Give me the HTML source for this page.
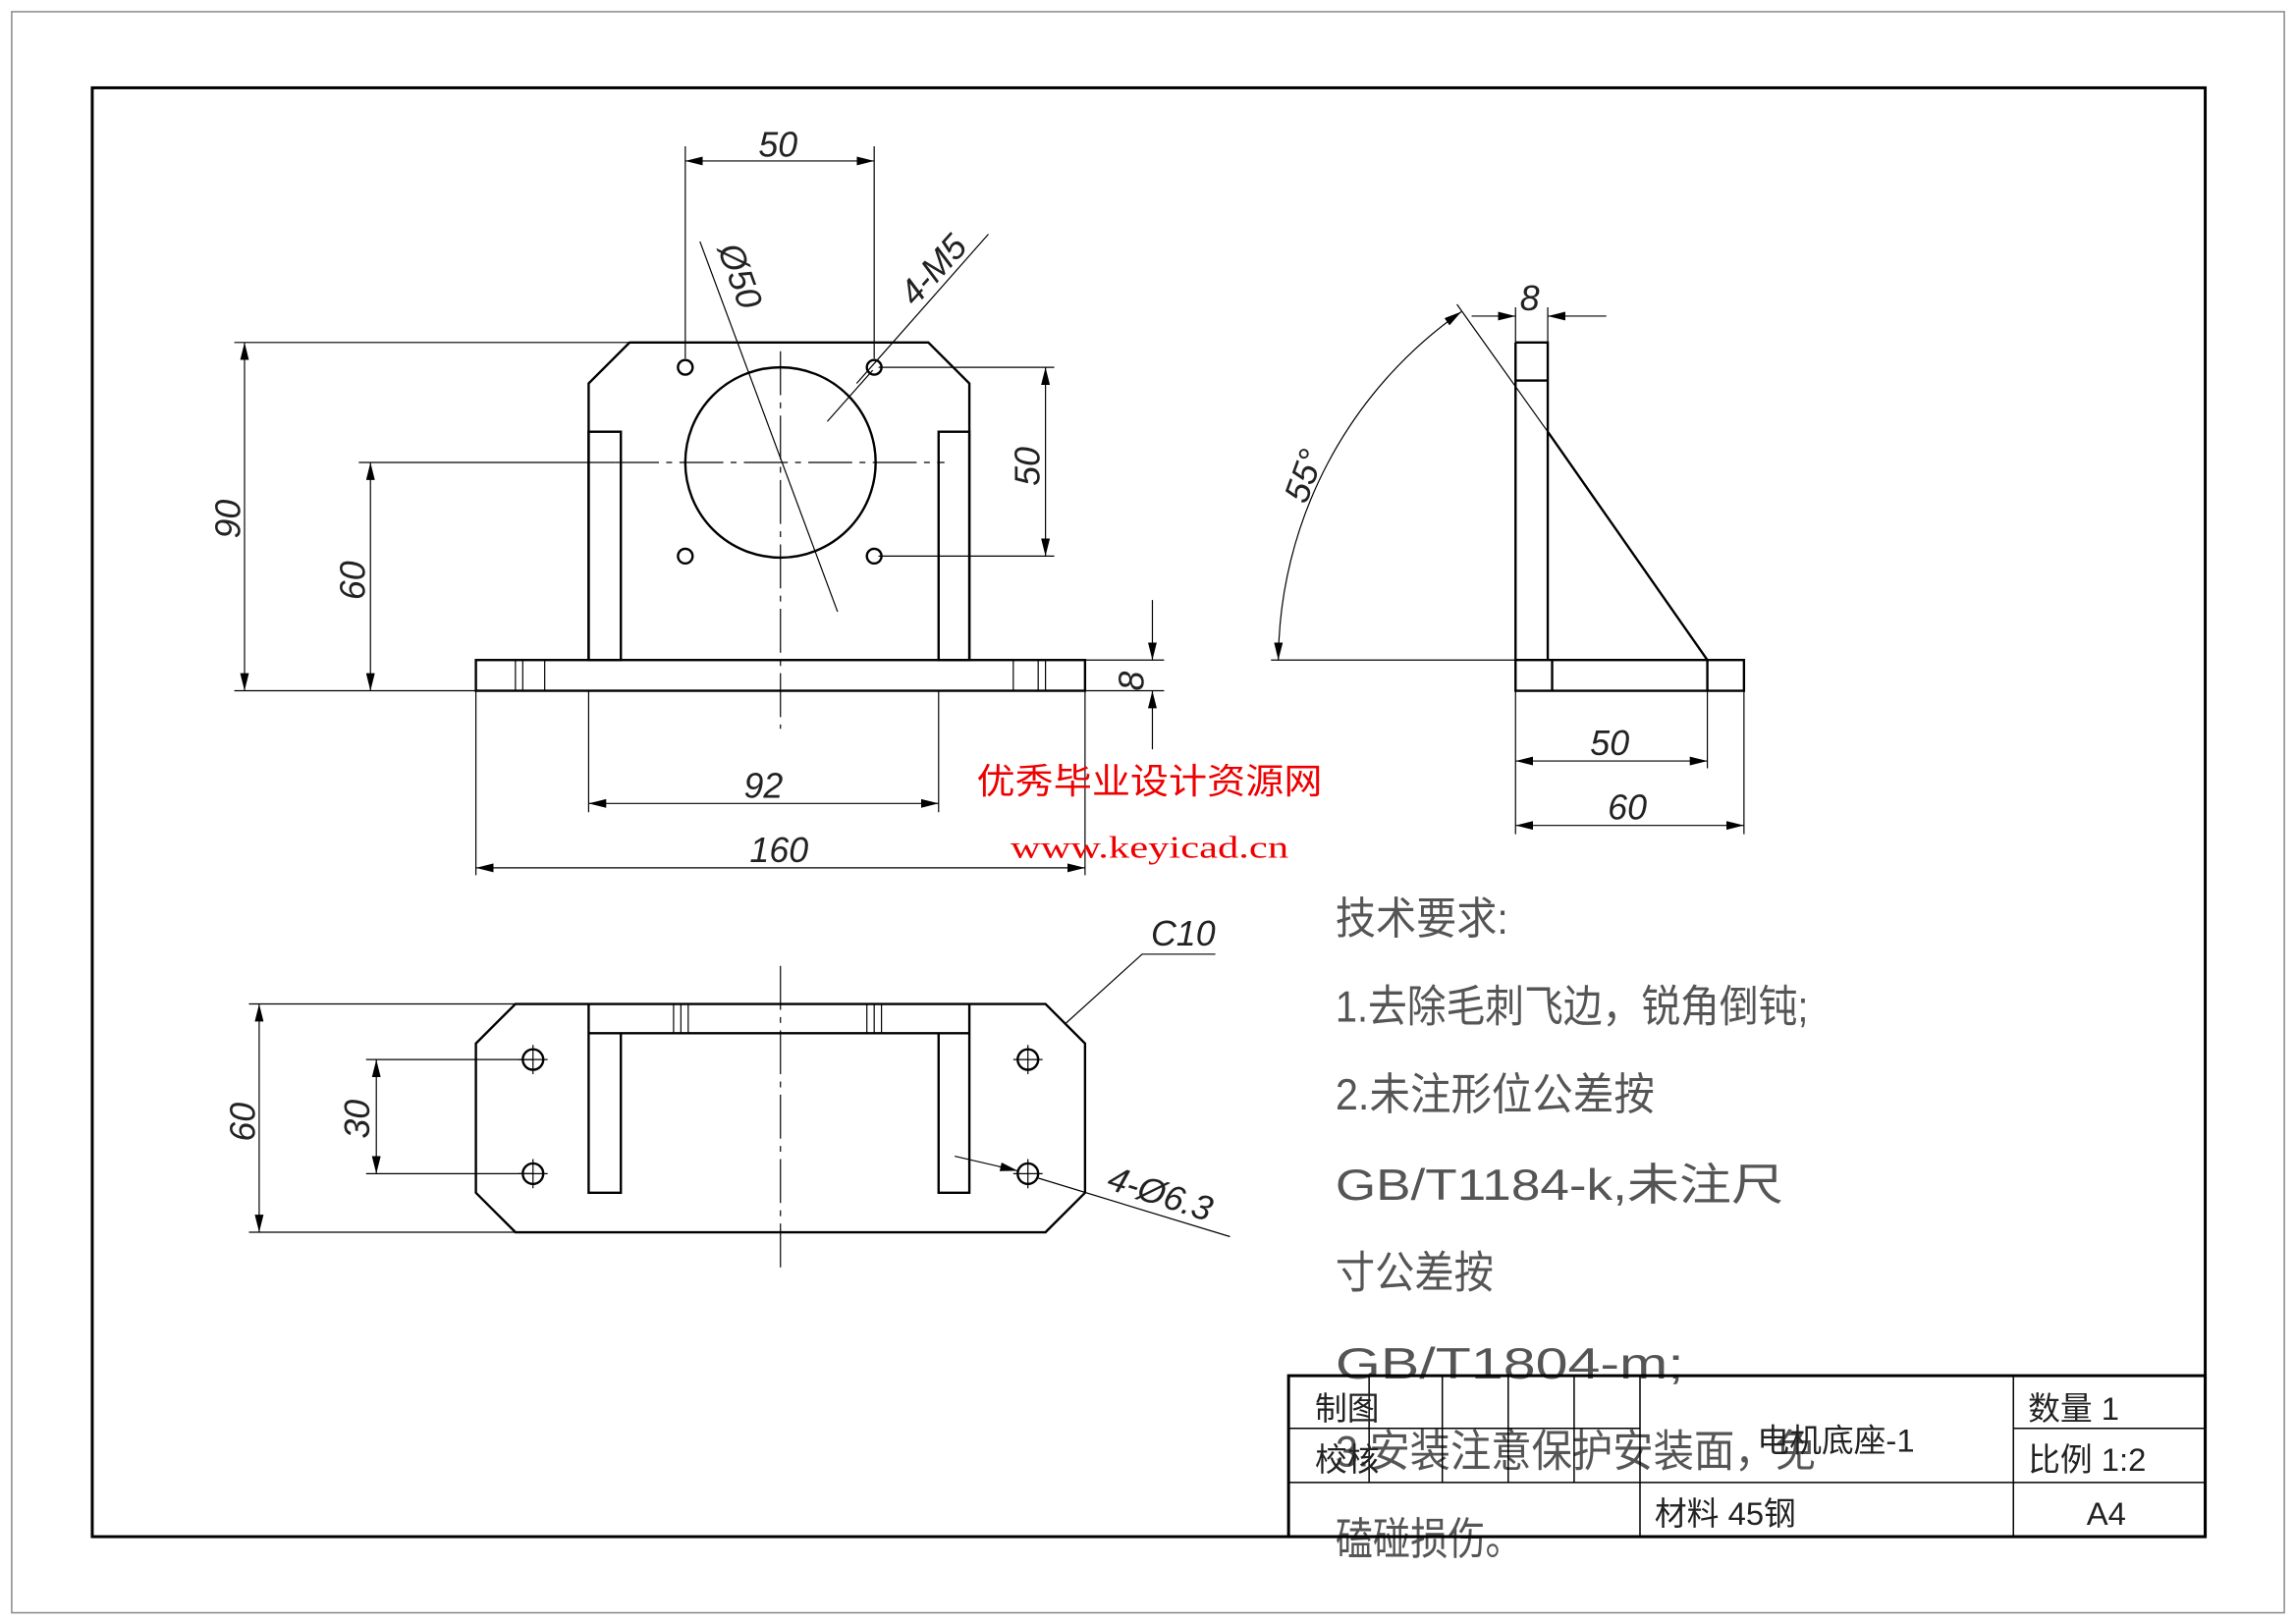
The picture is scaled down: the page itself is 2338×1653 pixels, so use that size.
<!DOCTYPE html>
<html><head><meta charset="utf-8"><style>
html,body{margin:0;padding:0;background:#fff}
svg{display:block}
text{font-family:"Liberation Sans","Noto Sans CJK SC",sans-serif;fill:#222}
.t{font-size:24px;font-style:italic}
.r{font-size:30px;fill:#555}
</style></head><body>
<svg width="2338" height="1653" viewBox="0 0 1568 1109" preserveAspectRatio="none" xmlns="http://www.w3.org/2000/svg">
<defs>
<marker id="a" viewBox="0 0 12 6" refX="12" refY="3" markerWidth="12" markerHeight="6" orient="auto-start-reverse" markerUnits="userSpaceOnUse"><path d="M0,0 L12,3 L0,6 z" fill="#000"/></marker>
</defs>
<rect width="1568" height="1109" fill="#fff"/>
<rect x="8" y="8" width="1552" height="1094" fill="none" stroke="#888" stroke-width="1"/>
<rect x="63" y="60" width="1443" height="990" fill="none" stroke="#000" stroke-width="2"/>

<g fill="none" stroke="#000" stroke-width="1.6">
<rect x="325" y="451" width="416" height="21"/>
<path d="M402,451 V262 L430,234 H634 L662,262 V451"/>
<rect x="402" y="295" width="22" height="156"/>
<rect x="641" y="295" width="21" height="156"/>
<circle cx="533" cy="316" r="65"/>
<circle cx="468" cy="251" r="5"/><circle cx="597" cy="251" r="5"/>
<circle cx="468" cy="380" r="5"/><circle cx="597" cy="380" r="5"/>
</g>
<g stroke="#000" stroke-width="0.8" fill="none">
<path d="M352,451V472M357,451V472M372,451V472M692,451V472M709,451V472M714,451V472"/>
<path d="M420,316H645M533,240V498" stroke-dasharray="30,5,4,5"/>
<path d="M468,100V245M597,100V245"/>
<path d="M468,110H597" marker-start="url(#a)" marker-end="url(#a)"/>
<path d="M478,165L572,418"/>
<path d="M675,160L585,262M596,253L565,288"/>
<path d="M160,234H430M160,472H325"/>
<path d="M167,234V472" marker-start="url(#a)" marker-end="url(#a)"/>
<path d="M245,316H420"/>
<path d="M253,316V472" marker-start="url(#a)" marker-end="url(#a)"/>
<path d="M600,251H720M600,380H720"/>
<path d="M714,251V380" marker-start="url(#a)" marker-end="url(#a)"/>
<path d="M741,451H795M741,472H795"/>
<path d="M787,410V451" marker-end="url(#a)"/><path d="M787,512V472" marker-end="url(#a)"/>
<path d="M402,472V555M641,472V555"/>
<path d="M402,549H641" marker-start="url(#a)" marker-end="url(#a)"/>
<path d="M325,472V598M741,472V598"/>
<path d="M325,593H741" marker-start="url(#a)" marker-end="url(#a)"/>
</g>
<g fill="none" stroke="#000" stroke-width="1.6">
<path d="M1035,234H1057V451M1035,234V472H1191V451H1035M1035,260H1057M1057,295L1166,451M1166,451V472M1060,451V472"/>
</g>
<g stroke="#000" stroke-width="0.8" fill="none">
<path d="M868,451H1035M1057,295L995,208"/>
<path d="M873,451 A293,293 0 0 1 998,213" marker-start="url(#a)" marker-end="url(#a)"/>
<path d="M1035,210V234M1057,210V234"/>
<path d="M1005,216H1035" marker-end="url(#a)"/><path d="M1097,216H1057" marker-end="url(#a)"/>
<path d="M1035,472V570M1166,472V525M1191,472V570"/>
<path d="M1035,520H1166" marker-start="url(#a)" marker-end="url(#a)"/>
<path d="M1035,564H1191" marker-start="url(#a)" marker-end="url(#a)"/>
</g>
<g fill="none" stroke="#000" stroke-width="1.6">
<path d="M352,686H714L741,713V815L714,842H352L325,815V713Z"/>
<path d="M402,686V815H424V706M641,706V815H662V686M402,706H662"/>
<circle cx="364" cy="724" r="7"/><circle cx="364" cy="802" r="7"/>
<circle cx="702" cy="724" r="7"/><circle cx="702" cy="802" r="7"/>
</g>
<g stroke="#000" stroke-width="0.8" fill="none">
<path d="M460,686V706M465,686V706M470,686V706M592,686V706M597,686V706M602,686V706"/>
<path d="M354,724H374M364,714V734M354,802H374M364,792V812M692,724H712M702,714V734M692,802H712M702,792V812"/>
<path d="M533,660V868" stroke-dasharray="30,5,4,5"/>
<path d="M170,686H352M170,842H352"/>
<path d="M177,686V842" marker-start="url(#a)" marker-end="url(#a)"/>
<path d="M250,724H364M250,802H364"/>
<path d="M257,724V802" marker-start="url(#a)" marker-end="url(#a)"/>
<path d="M727,700L780,652H830"/>
<path d="M840,845L709,805"/><path d="M652,790L695,800" marker-end="url(#a)"/>
</g>
<text class="t" x="518" y="107">50</text>
<text class="t" transform="translate(490,170) rotate(70)">Ø50</text>
<text class="t" transform="translate(625,210) rotate(-48)">4-M5</text>
<text class="t" transform="translate(164,368) rotate(-90)">90</text>
<text class="t" transform="translate(249,410) rotate(-90)">60</text>
<text class="t" transform="translate(710,332) rotate(-90)">50</text>
<text class="t" transform="translate(781,472) rotate(-90)">8</text>
<text class="t" x="508" y="545">92</text>
<text class="t" x="512" y="589">160</text>
<text class="t" transform="translate(892,345) rotate(-70)">55°</text>
<text class="t" x="1038" y="212">8</text>
<text class="t" x="1086" y="516">50</text>
<text class="t" x="1098" y="560">60</text>
<text class="t" transform="translate(174,780) rotate(-90)">60</text>
<text class="t" transform="translate(252,778) rotate(-90)">30</text>
<text class="t" x="786" y="646">C10</text>
<text class="t" transform="translate(755,812) rotate(18)">4-Ø6.3</text>
<text x="667" y="542" textLength="236" lengthAdjust="spacingAndGlyphs" style="font-size:24px;fill:#e00">优秀毕业设计资源网</text>
<text x="690" y="586" textLength="190" lengthAdjust="spacingAndGlyphs" style="font-family:'Liberation Serif',serif;font-size:21px;fill:#e00">www.keyicad.cn</text>
<text class="r" x="912" y="638" textLength="118" lengthAdjust="spacingAndGlyphs">技术要求:</text>
<text class="r" x="912" y="698" textLength="323" lengthAdjust="spacingAndGlyphs">1.去除毛刺飞边，锐角倒钝;</text>
<text class="r" x="912" y="758" textLength="218" lengthAdjust="spacingAndGlyphs">2.未注形位公差按</text>
<text class="r" x="912" y="820" textLength="306" lengthAdjust="spacingAndGlyphs">GB/T1184-k,未注尺</text>
<text class="r" x="912" y="880" textLength="108" lengthAdjust="spacingAndGlyphs">寸公差按</text>
<text class="r" x="912" y="942" textLength="238" lengthAdjust="spacingAndGlyphs">GB/T1804-m;</text>
<text class="r" x="912" y="1002" textLength="328" lengthAdjust="spacingAndGlyphs">3.安装注意保护安装面，免</text>
<text class="r" x="912" y="1062" textLength="128" lengthAdjust="spacingAndGlyphs">磕碰损伤。</text>
<g stroke="#000" fill="none">
<rect x="880" y="940" width="626" height="110" stroke-width="2"/>
<path d="M1375,940V1050M880,1013H1506M880,976H1120M1375,976H1506M935,940V1013M985,940V1013M1030,940V1013M1075,940V1013M1120,940V1050" stroke-width="1"/>
</g>
<text x="898" y="970" style="font-size:22px">制图</text>
<text x="898" y="1005" style="font-size:22px">校核</text>
<text x="1200" y="992" style="font-size:22px">电机底座-1</text>
<text x="1130" y="1042" style="font-size:22px">材料 45钢</text>
<text x="1385" y="970" style="font-size:22px">数量 1</text>
<text x="1385" y="1005" style="font-size:22px">比例 1:2</text>
<text x="1425" y="1042" style="font-size:22px">A4</text>
</svg>
</body></html>
